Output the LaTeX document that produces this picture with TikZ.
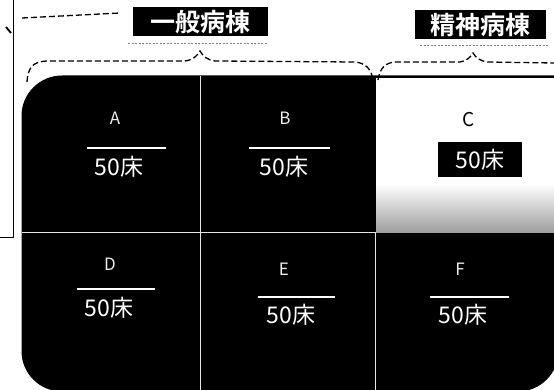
\documentclass[tikz,border=0pt]{standalone}
\usepackage{fontspec}
\setmainfont{Noto Sans CJK JP}[BoldFont={Noto Sans CJK JP Bold}]
\begin{document}
\begin{tikzpicture}[x=1pt,y=-1pt,
  hdr/.style={fill=black,text=white,font=\fontsize{25}{27}\selectfont\bfseries,inner sep=0pt,minimum height=29pt},
  beds/.style={text=white,font=\fontsize{23}{25}\selectfont,inner sep=0pt},
  wlabel/.style={text=white!85!gray,font=\fontsize{17}{19}\selectfont,inner sep=0pt},
  bar/.style={white,line width=2pt},
  divider/.style={white!80!gray,line width=0.9pt},
  dashline/.style={black,line width=1.3pt,dash pattern=on 6pt off 3pt},
  dotline/.style={gray,line width=0.6pt,dash pattern=on 2pt off 1.5pt}]
\useasboundingbox (0,0) rectangle (554,390);
\def\blockpath{(300,76) -- (558,76) -- (558,250) [rounded corners=40pt] -- (558,391) -- (22,391) -- (22,76) -- (300,76)}
% main rounded block
\begin{scope}
  \clip \blockpath;
  \fill[black] (22,76) rectangle (562,391);
  \fill[white] (375,78) rectangle (562,185);
  \shade[top color=white,bottom color=gray!75] (375,184) rectangle (562,232);
\end{scope}
\draw[black,line width=1pt] \blockpath;
% dividers
\draw[divider] (200,76) -- (200,391);
\draw[divider] (22,232) -- (375,232);
\draw[divider] (375,232) -- (375,391);
\draw[black,line width=1pt] (375,76) -- (375,232);
% headers
\node[hdr,minimum width=135pt] (gen) at (200,22) {一般病棟};
\node[hdr,minimum width=131pt] (psy) at (480,25) {精神病棟};
\draw[dotline] (128,43) -- (268,43);
\draw[dotline] (420,45) -- (548,45);
% braces
\draw[dashline] (27,82) .. controls (28,67) and (33,62) .. (46,61) -- (185,61) .. controls (193,60) and (197,56) .. (200,51) .. controls (203,56) and (207,60) .. (215,61) -- (355,62) .. controls (365,63) and (371,68) .. (373,80);
\draw[dashline] (378,80) .. controls (380,68) and (385,63) .. (395,62) -- (460,62) .. controls (466,61) and (470,58) .. (473,53) .. controls (476,58) and (480,61) .. (488,62) -- (554,63);
% top-left marks
\draw[dashline] (22,18) -- (120,13);
\draw[black,line width=0.9pt] (13,0) -- (13,237) -- (0,237);
\draw[black,line width=1.8pt] (6,27) -- (11,33);
% cell A
\node[wlabel] (lA) at (115,118) {A};
\draw[bar] (87,148) -- (166,148);
\node[beds] (nA) at (119,167) {50床};
% cell B
\node[wlabel] (lB) at (285,118) {B};
\draw[bar] (249,148) -- (330,148);
\node[beds] (nB) at (284,167) {50床};
% cell C
\node[text=black,font=\fontsize{19}{21}\selectfont,inner sep=0pt] (lC) at (469,120) {C};
\node[beds,fill=black,minimum width=84pt,minimum height=35pt] (nC) at (480,160) {50床};
% cell D
\node[wlabel] (lD) at (110,264) {D};
\draw[bar] (77,289) -- (155,289);
\node[beds] (nD) at (109,308) {50床};
% cell E
\node[wlabel] (lE) at (284,269) {E};
\draw[bar] (258,297) -- (335,297);
\node[beds] (nE) at (291,315) {50床};
% cell F
\node[wlabel] (lF) at (460,269) {F};
\draw[bar] (430,297) -- (509,297);
\node[beds] (nF) at (463,315) {50床};
\end{tikzpicture}
\end{document}
